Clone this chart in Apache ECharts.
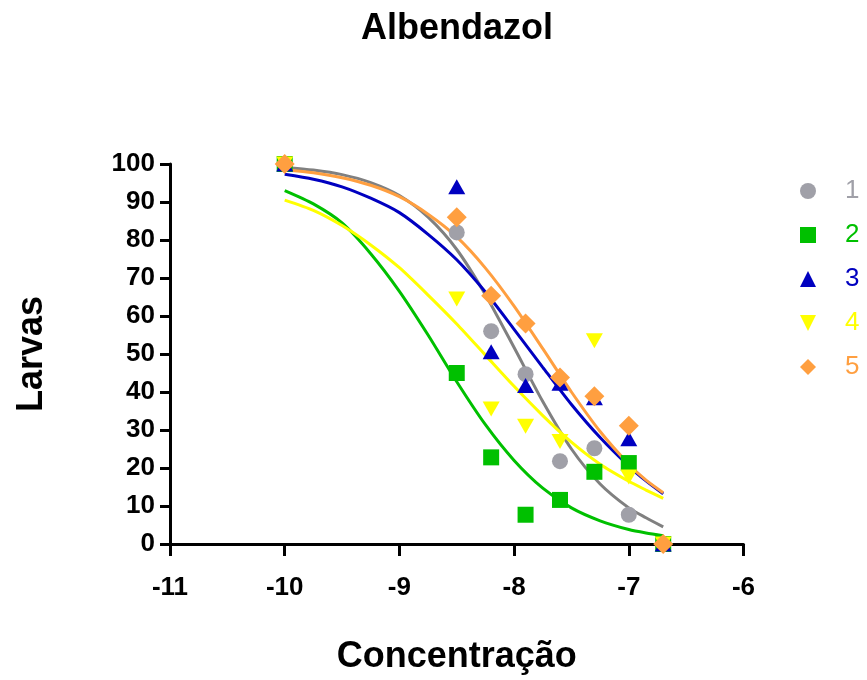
<!DOCTYPE html>
<html>
<head>
<meta charset="utf-8">
<script src="https://cdn.jsdelivr.net/npm/echarts@6/dist/echarts.min.js"></script>
<style>
  html, body { margin: 0; padding: 0; background: #fff; }
  #chart { width: 867px; height: 680px; }
</style>
</head>
<body>
<div id="chart"></div>
<script>
// log concentrations of the measured points
const xPoints = [-10, -8.5, -8.2, -7.9, -7.6, -7.3, -7.0, -6.7];
const larvas1 = [100, 82, 56, 44.7, 21.8, 25.2, 7.7, 0];
const larvas2 = [100, 45, 22.8, 7.7, 11.6, 19, 21.3, 0];
const larvas3 = [100, 94, 50.6, 41.7, 42.3, 38.5, 27.7, 0];
const larvas4 = [100, 64.5, 35.5, 31, 27, 53.5, 17.6, 0];
const larvas5 = [100, 86, 65.3, 58, 43.8, 38.9, 31.1, 0];

// fitted curves
const curveX = [-10, -9.75, -9.5, -9.25, -9, -8.75, -8.5, -8.25, -8, -7.75, -7.5, -7.25, -7, -6.85, -6.7];
const fit1 = [99.1, 98.4, 97.2, 95.1, 91.7, 86, 77.5, 65.6, 51.7, 37.5, 25, 15.8, 9.5, 6.9, 4.5];
const fit2 = [93, 89.5, 84.5, 76.4, 66.5, 55, 42.7, 31.4, 22, 14.7, 9.5, 6.1, 3.8, 2.9, 2.2];
const fit3 = [97.3, 96, 94, 91, 87.2, 81.5, 74.8, 66.3, 56.5, 46.5, 36.7, 28, 20.5, 16.6, 13.2];
const fit4 = [90.5, 87.8, 83.8, 78.7, 72.7, 65.5, 57.9, 49.7, 41.5, 33.8, 26.8, 21, 16.5, 14.2, 12];
const fit5 = [98.5, 97.7, 96.4, 94.4, 91.4, 86.8, 80.8, 72.6, 62.6, 51.4, 40, 29.6, 21, 16.8, 13.5];

const names = ['1', '2', '3', '4', '5'];
const markColors = ['#A0A0A8', '#00C000', '#0000C0', '#FFFF00', '#FF9F40'];
const lineColors = ['#808080', '#00C000', '#0000C0', '#FFFF00', '#FF9F40'];
const symbols = ['circle', 'rect', 'triangle', 'path://M0,0L10,0L5,10Z', 'diamond'];
const symbolSizes = [16, 16, [17, 15], [17, 15], 20];

function pairs(xs, ys) {
    return xs.map(function (x, i) { return [x, ys[i]]; });
}

const points = [larvas1, larvas2, larvas3, larvas4, larvas5];
const fits = [fit1, fit2, fit3, fit4, fit5];

let series = [];
fits.forEach(function (f, i) {
    series.push({
        name: 'fit' + names[i],
        type: 'line',
        data: pairs(curveX, f),
        showSymbol: false,
        smooth: 0.25,
        z: 2,
        lineStyle: { color: lineColors[i], width: 3 },
        silent: true
    });
});
points.forEach(function (p, i) {
    series.push({
        name: names[i],
        type: 'scatter',
        data: pairs(xPoints, p),
        symbol: symbols[i],
        symbolSize: symbolSizes[i],
        z: 3,
        itemStyle: { color: markColors[i], opacity: 1 }
    });
});

var chart = echarts.init(document.getElementById('chart'));
var font = '"Liberation Sans", Arial, sans-serif';
var option = {
    animation: false,
    title: {
        text: 'Albendazol',
        left: 356,
        top: 6,
        textStyle: { fontFamily: font, fontSize: 36, fontWeight: 'bold', color: '#000' }
    },
    legend: {
        orient: 'vertical',
        left: 795,
        top: 173,
        itemWidth: 16,
        itemHeight: 16,
        itemGap: 18,
        data: names.map(function (n, i) {
            return { name: n, textStyle: { color: markColors[i] } };
        }),
        textStyle: { fontFamily: font, fontSize: 26, padding: [0, 0, 0, 24] }
    },
    grid: { left: 170, right: 123.5, top: 164, bottom: 134, containLabel: false },
    xAxis: {
        type: 'value',
        min: -11, max: -6, interval: 1,
        name: 'Concentração',
        nameLocation: 'middle',
        nameGap: 95,
        nameTextStyle: { fontFamily: font, fontSize: 36, fontWeight: 'bold', color: '#000' },
        axisLine: { onZero: false, lineStyle: { color: '#000', width: 3 } },
        axisTick: { length: 12, lineStyle: { color: '#000', width: 3 } },
        axisLabel: { margin: 31, fontFamily: font, fontSize: 26, fontWeight: 'bold', color: '#000' },
        splitLine: { show: false }
    },
    yAxis: {
        type: 'value',
        min: 0, max: 100, interval: 10,
        name: 'Larvas',
        nameLocation: 'middle',
        nameGap: 120,
        nameRotate: 90,
        nameTextStyle: { fontFamily: font, fontSize: 36, fontWeight: 'bold', color: '#000' },
        axisLine: { show: true, lineStyle: { color: '#000', width: 3 } },
        axisTick: { show: true, length: 10, lineStyle: { color: '#000', width: 3 } },
        axisLabel: { margin: 15, fontFamily: font, fontSize: 26, fontWeight: 'bold', color: '#000' },
        splitLine: { show: false }
    },
    series: series
};
chart.setOption(option);
</script>
</body>
</html>
